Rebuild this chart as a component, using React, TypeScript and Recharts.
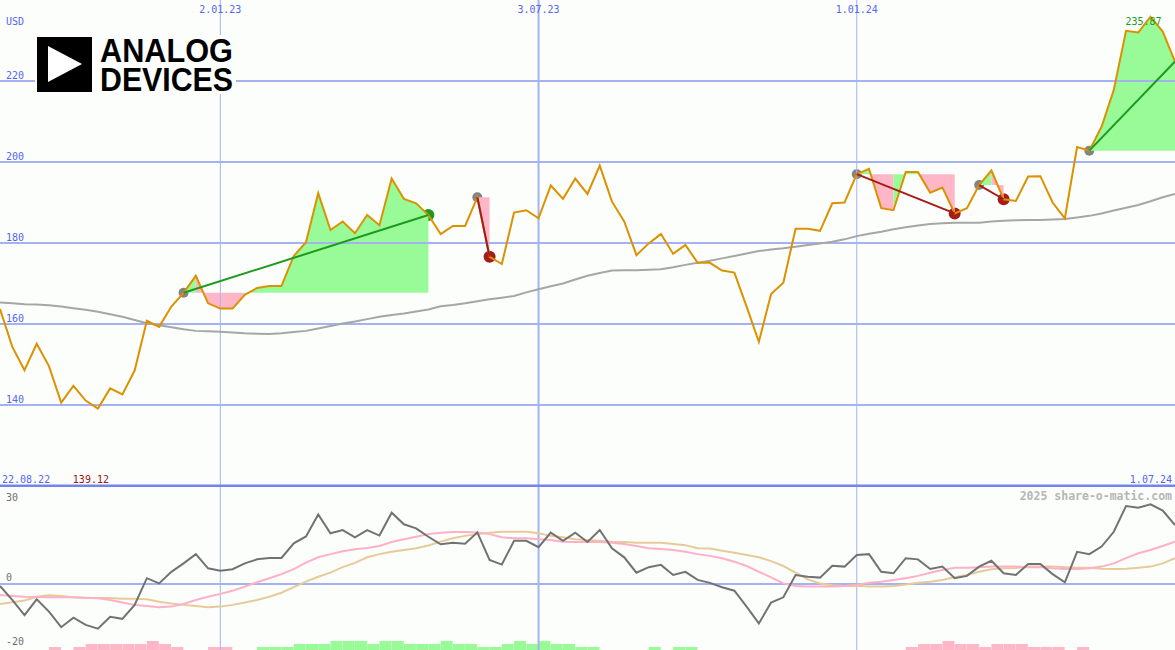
import React from "react";
import {
  ComposedChart,
  BarChart,
  Bar,
  Line,
  Area,
  XAxis,
  YAxis,
  ReferenceLine,
  ReferenceDot,
} from "recharts";

// weekly closes, 22.08.22 .. 1.07.24
const price = [
  163.7, 154.4, 148.6, 155.1, 149.6, 140.6, 144.7, 141.1, 139.12, 144.1,
  142.6, 148.5, 160.8, 159.3, 164.3, 167.7, 171.9, 165.1, 163.8, 163.8,
  167.2, 168.9, 169.4, 169.4, 176.8, 180.2, 192.3, 183.2, 185.3, 182.4,
  186.9, 184.4, 195.9, 190.9, 189.8, 186.9, 182.2, 184.2, 184.2, 191.3,
  176.6, 174.8, 187.5, 188.1, 186.1, 194.2, 190.9, 195.9, 192.1, 199.1,
  190.2, 185.3, 177.0, 179.9, 182.2, 177.3, 179.5, 175.1, 175.1, 173.2,
  172.7, 164.3, 155.6, 167.4, 170.2, 183.5, 183.5, 183.0, 189.8, 190.0,
  197.0, 198.3, 188.6, 188.1, 197.5, 197.5, 192.4, 193.7, 187.3, 188.6,
  194.3, 197.9, 190.8, 190.4, 196.4, 196.5, 190.0, 186.1, 203.7, 202.8,
  208.7, 217.8, 232.4, 232.0, 235.87, 232.2, 224.8,
];

// long moving average (grey)
const avgLine = [
  165.3, 165.1, 164.9, 164.8, 164.6, 164.3, 163.9, 163.5, 163.0, 162.4,
  161.8, 161.0, 160.2, 159.7, 159.2, 158.7, 158.3, 158.2, 158.1, 157.9,
  157.7, 157.6, 157.5, 157.7, 158.0, 158.3, 158.9, 159.5, 160.1, 160.6,
  161.2, 161.8, 162.2, 162.6, 163.1, 163.6, 164.4, 164.7, 165.1, 165.6,
  166.1, 166.5, 166.9, 167.8, 168.6, 169.3, 170.0, 171.0, 171.9, 172.6,
  173.2, 173.3, 173.3, 173.4, 173.5, 174.0, 174.6, 175.1, 175.6, 176.2,
  176.8, 177.4, 178.0, 178.4, 178.7, 179.1, 179.5, 179.9, 180.3, 180.9,
  181.7, 182.3, 182.8, 183.4, 183.9, 184.3, 184.7, 184.9, 185.0, 185.0,
  185.0, 185.3, 185.5, 185.6, 185.7, 185.7, 185.8, 185.9, 186.3, 186.7,
  187.3, 188.0, 188.7, 189.4, 190.3, 191.3, 192.1,
];

// lower panel
const momentum = [
  -0.7, -5.5, -10.7, -5.3, -9.5, -14.9, -11.6, -14.1, -15.4, -11.3,
  -12.0, -7.2, 2.0, 0.2, 4.2, 7.1, 10.3, 5.4, 4.6, 5.1,
  7.1, 8.5, 9.0, 9.0, 14.0, 16.4, 24.0, 17.5, 18.6, 16.1,
  18.6, 16.7, 24.6, 20.6, 19.2, 16.3, 13.7, 14.2, 13.9, 17.8,
  8.3, 6.7, 14.9, 14.9, 12.7, 17.7, 14.9, 17.7, 14.5, 18.6,
  12.3, 9.2, 3.9, 5.8, 6.6, 3.1, 4.2, 1.4, 0.4, -1.1,
  -2.3, -7.8, -13.6, -6.4, -4.6, 3.1, 2.5, 2.2, 6.3, 6.0,
  10.0, 10.3, 4.2, 3.7, 8.9, 8.5, 5.2, 6.0, 2.0, 2.8,
  6.0, 8.0, 3.7, 3.1, 6.9, 6.9, 3.4, 0.6, 11.1, 10.3,
  12.9, 18.0, 26.9, 26.3, 27.5, 25.3, 20.3,
];

const fastAvg = [
  -3.8, -4.1, -4.4, -4.5, -4.6, -4.6, -4.6, -4.7, -4.9, -5.5,
  -6.4, -7.2, -7.6, -8.0, -7.8, -6.9, -5.5, -4.4, -3.4, -2.3,
  -0.9, 0.6, 2.0, 3.4, 5.1, 7.4, 9.2, 10.3, 11.3, 12.0,
  12.4, 13.1, 14.5, 15.4, 16.3, 17.2, 17.7, 17.9, 17.9, 17.8,
  17.2, 16.1, 15.8, 15.8, 15.4, 15.2, 14.6, 14.5, 14.5, 14.5,
  14.2, 13.8, 13.1, 12.3, 12.1, 11.7, 11.1, 10.3, 9.7, 8.9,
  7.7, 6.2, 4.2, 2.3, 0.2, -0.7, -0.9, -0.9, -0.9, -0.7,
  -0.3, 0.4, 0.8, 1.4, 2.0, 2.8, 3.9, 4.8, 5.6, 5.6,
  5.8, 6.0, 6.0, 6.0, 5.8, 5.8, 5.4, 5.2, 5.2, 5.4,
  6.0, 7.1, 8.9, 10.6, 11.7, 13.1, 14.6,
];

const slowAvg = [
  -6.9, -6.3, -5.7, -4.4, -3.9, -4.1, -4.6, -4.8, -4.8, -4.8,
  -5.1, -5.1, -5.3, -6.1, -6.7, -7.2, -7.6, -8.0, -7.8, -7.2,
  -6.4, -5.5, -4.4, -3.0, -1.1, 0.8, 2.5, 3.9, 5.8, 7.3,
  9.2, 10.3, 11.1, 11.7, 12.3, 13.3, 14.6, 15.8, 16.6, 17.2,
  17.7, 18.0, 18.0, 18.0, 17.5, 16.6, 16.1, 15.4, 15.2, 14.9,
  14.6, 14.5, 14.2, 14.2, 14.2, 13.8, 13.4, 12.3, 12.2, 11.5,
  10.8, 10.0, 9.2, 7.9, 6.2, 3.9, 1.6, 0.2, -0.4, -0.7,
  -0.6, -0.9, -0.9, -0.7, -0.2, 0.4, 0.8, 1.4, 2.3, 3.1,
  4.2, 5.1, 5.4, 5.5, 6.0, 6.0, 6.0, 5.8, 5.6, 5.6,
  5.3, 5.2, 5.3, 5.6, 6.0, 7.1, 8.9,
];

// weekly bars at the bottom, + green / - pink
const histogram = [
  0, 0, 0, 0, -1, 0, -1, -2, -2, -2,
  -2, -2, -3, -2, -1, 0, 0, -1, -1, 0,
  0, 1, 1, 1, 2, 2, 2, 3, 3, 3,
  2, 3, 3, 2, 2, 2, 3, 2, 2, 1,
  1, 2, 3, 2, 3, 2, 2, 1, 1, 0,
  0, 0, 0, 1, 0, 1, 1, 0, 0, 0,
  0, 0, 0, 0, 0, 0, 0, 0, 0, 0,
  0, 0, 0, 0, -1, -2, -2, -3, -2, -2,
  -1, -2, -2, -2, -1, -1, -1, 0, -1, 0,
  0, 0, 0, 0, 0, 0,
];

// signal periods (week index)
const trendStarts = [15, 39, 70, 80, 89];
const trendEnds = [35, 40, 78, 82, 96];
const trendOpen = [false, false, false, false, true];

const dateIdx = [18, 44, 70];
const dateText = ["2.01.23", "3.07.23", "1.01.24"];
const startLabel = "22.08.22";
const endLabel = "1.07.24";
const priceTicks = [140, 160, 180, 200, 220];
const oscTicks = [30, 0, -20];

const W = 1175;
const TOP_H = 487;
const BOT_H = 163;
const LAST = price.length - 1;
const MONO = "'DejaVu Sans Mono', monospace";
const BG = "#fcfefc";
const GRID = "#a4b2f2";
const SEP = "#7484ec";
const BLUE_TXT = "#5566ee";
const ORANGE = "#dc9200";
const GREEN_FILL = "#98fb98";
const PINK_FILL = "#ffb6c6";
const GREEN_LINE = "#1e9a1e";
const RED_LINE = "#a51c1c";

const topRows: any[] = price.map((p, i) => ({ i, price: p, avg: avgLine[i] }));
const runs: { up: boolean; start: number; end: number; level: number }[] = [];
trendStarts.forEach((s, k) => {
  const e = trendEnds[k];
  const level = price[s];
  topRows[s][`t${k}`] = price[s];
  topRows[e][`t${k}`] = price[e];
  let cur: any = null;
  for (let i = s; i < e; i++) {
    const up = price[i + 1] > level;
    if (cur && cur.up === up) cur.end = i + 1;
    else {
      cur = { up, start: i, end: i + 1, level };
      runs.push(cur);
    }
  }
});
runs.forEach((r, n) => {
  for (let i = r.start; i <= r.end; i++) topRows[i][`f${n}`] = [r.level, price[i]];
});

const oscRows = momentum.map((m, i) => ({ i, mom: m, fast: fastAvg[i], slow: slowAvg[i] }));
const histRows = histogram.map((h, i) => ({ i, up: h > 0 ? h : 0, down: h < 0 ? -h : 0 }));

const maxVal = Math.max(...price);
const maxIdx = price.indexOf(maxVal);
const minVal = Math.min(...price);
const minIdx = price.indexOf(minVal);

const zero = { top: 0, right: 0, bottom: 0, left: 0 };

const DateTick = (props: any) => (
  <text x={props.x} y={13} textAnchor="middle" fill={BLUE_TXT} fontSize={10} fontFamily={MONO}>
    {dateText[dateIdx.indexOf(props.payload.value)]}
  </text>
);

const PriceTick = (props: any) => (
  <text x={6} y={props.y - 2} fill={BLUE_TXT} fontSize={10} fontFamily={MONO}>
    {props.payload.value}
  </text>
);

const OscTick = (props: any) => (
  <text
    x={6}
    y={props.payload.value === 0 ? props.y - 3 : props.y + 3.5}
    fill="#707070"
    fontSize={10}
    fontFamily={MONO}
  >
    {props.payload.value}
  </text>
);

export default function App() {
  return (
    <div style={{ position: "relative", width: W, height: TOP_H + BOT_H, background: BG, overflow: "hidden" }}>
      <style>{"body{margin:0}"}</style>
      <div style={{ position: "absolute", left: 0, top: 0 }}>
        <ComposedChart width={W} height={TOP_H} data={topRows} margin={zero}>
          <XAxis
            type="number"
            dataKey="i"
            domain={[0, LAST]}
            orientation="top"
            mirror
            ticks={dateIdx}
            interval={0}
            tick={DateTick}
            axisLine={false}
            tickLine={false}
            allowDataOverflow
          />
          <YAxis
            type="number"
            domain={[119.75, 240]}
            mirror
            ticks={priceTicks}
            interval={0}
            tick={PriceTick}
            axisLine={false}
            tickLine={false}
            allowDataOverflow
          />
          {priceTicks.map((v) => (
            <ReferenceLine key={`h${v}`} y={v} stroke={GRID} strokeWidth={2} />
          ))}
          {dateIdx.map((d, k) => (
            <ReferenceLine key={`v${d}`} x={d} stroke={GRID} strokeWidth={k === 1 ? 2 : 1} />
          ))}
          <ReferenceLine y={120} stroke={SEP} strokeWidth={3} />

          {trendStarts.map((s, k) => (
            <ReferenceDot
              key={`s${k}`}
              x={s}
              y={price[s]}
              r={5}
              fill="#848484"
              stroke="none"
              zIndex={50}
            />
          ))}
          {trendEnds.map((e, k) =>
            trendOpen[k] ? null : (
              <ReferenceDot
                key={`e${k}`}
                x={e}
                y={price[e]}
                r={6}
                fill={price[e] > price[trendStarts[k]] ? GREEN_LINE : RED_LINE}
                stroke="none"
                zIndex={50}
              />
            )
          )}

          {runs.map((r, n) => (
            <Area
              key={`f${n}`}
              type="linear"
              dataKey={`f${n}`}
              stroke="none"
              fill={r.up ? GREEN_FILL : PINK_FILL}
              fillOpacity={1}
              isAnimationActive={false}
              activeDot={false}
            />
          ))}

          <Line type="linear" dataKey="avg" stroke="#a6a6a6" strokeWidth={2} dot={false} activeDot={false} isAnimationActive={false} />
          <Line type="linear" dataKey="price" stroke={ORANGE} strokeWidth={2} dot={false} activeDot={false} isAnimationActive={false} />

          {trendStarts.map((s, k) => (
            <Line
              key={`t${k}`}
              type="linear"
              dataKey={`t${k}`}
              connectNulls
              stroke={price[trendEnds[k]] > price[s] ? GREEN_LINE : RED_LINE}
              strokeWidth={2}
              dot={false}
              activeDot={false}
              isAnimationActive={false}
            />
          ))}

          <ReferenceDot
            x={maxIdx}
            y={maxVal}
            r={1}
            shape={(p: any) => (
              <text x={p.cx - 7} y={p.cy + 8.5} textAnchor="middle" fill="#1e9a1e" fontSize={10} fontFamily={MONO}>
                {maxVal.toFixed(2)}
              </text>
            )}
          />
          <ReferenceDot
            x={minIdx}
            y={minVal}
            r={1}
            shape={(p: any) => (
              <text x={p.cx - 7} y={483} textAnchor="middle" fill="#a01414" fontSize={10} fontFamily={MONO}>
                {minVal.toFixed(2)}
              </text>
            )}
          />
          <ReferenceDot
            x={0}
            y={minVal}
            r={1}
            shape={(p: any) => (
              <text x={p.cx + 2} y={483} fill={BLUE_TXT} fontSize={10} fontFamily={MONO}>
                {startLabel}
              </text>
            )}
          />
          <ReferenceDot
            x={LAST}
            y={minVal}
            r={1}
            shape={(p: any) => (
              <text x={p.cx - 3} y={483} textAnchor="end" fill={BLUE_TXT} fontSize={10} fontFamily={MONO}>
                {endLabel}
              </text>
            )}
          />
        </ComposedChart>
      </div>

      <div style={{ position: "absolute", left: 0, top: TOP_H }}>
        <BarChart width={W} height={BOT_H} data={histRows} margin={zero} barCategoryGap={0} barGap={0}>
          <XAxis dataKey="i" hide />
          <YAxis type="number" domain={[0, 54]} hide allowDataOverflow />
          <Bar dataKey="up" stackId="h" fill={GREEN_FILL} isAnimationActive={false} />
          <Bar dataKey="down" stackId="h" fill={PINK_FILL} isAnimationActive={false} />
        </BarChart>
      </div>

      <div style={{ position: "absolute", left: 0, top: TOP_H }}>
        <ComposedChart width={W} height={BOT_H} data={oscRows} margin={zero}>
          <XAxis type="number" dataKey="i" domain={[0, LAST]} hide allowDataOverflow />
          <YAxis
            type="number"
            domain={[-22.76, 33.45]}
            mirror
            ticks={oscTicks}
            interval={0}
            tick={OscTick}
            axisLine={false}
            tickLine={false}
            allowDataOverflow
          />
          {dateIdx.map((d, k) => (
            <ReferenceLine key={`bv${d}`} x={d} stroke={GRID} strokeWidth={k === 1 ? 2 : 1} />
          ))}
          <ReferenceLine y={0} stroke={GRID} strokeWidth={2} />
          <Line type="linear" dataKey="slow" stroke="#e6cb98" strokeWidth={2} dot={false} activeDot={false} isAnimationActive={false} />
          <Line type="linear" dataKey="fast" stroke="#ffb0c6" strokeWidth={2} dot={false} activeDot={false} isAnimationActive={false} />
          <Line type="linear" dataKey="mom" stroke="#727272" strokeWidth={2} dot={false} activeDot={false} isAnimationActive={false} />
        </ComposedChart>
      </div>

      <svg
        width={W}
        height={TOP_H + BOT_H}
        style={{ position: "absolute", left: 0, top: 0, pointerEvents: "none" }}
      >
        <text x={6} y={25} fill={BLUE_TXT} fontSize={10} fontFamily={MONO}>
          USD
        </text>
        <rect x={35} y={35} width={201} height={59} fill={BG} />
        <rect x={37} y={37} width={55} height={55} fill="#000" />
        <polygon points="48,46 48,82 82,64" fill="#fff" />
        <text
          fontFamily="'Liberation Sans', Arial, sans-serif"
          fontWeight={700}
          fontSize={33}
          fill="#000"
        >
          <tspan x={100} y={62} textLength={133} lengthAdjust="spacingAndGlyphs">
            ANALOG
          </tspan>
          <tspan x={100} y={91} textLength={133} lengthAdjust="spacingAndGlyphs">
            DEVICES
          </tspan>
        </text>
        <text
          x={1172}
          y={500}
          textAnchor="end"
          fill="#b6b6b6"
          fontSize={11.5}
          fontWeight={700}
          fontFamily={MONO}
        >
          2025 share-o-matic.com
        </text>
      </svg>
    </div>
  );
}
